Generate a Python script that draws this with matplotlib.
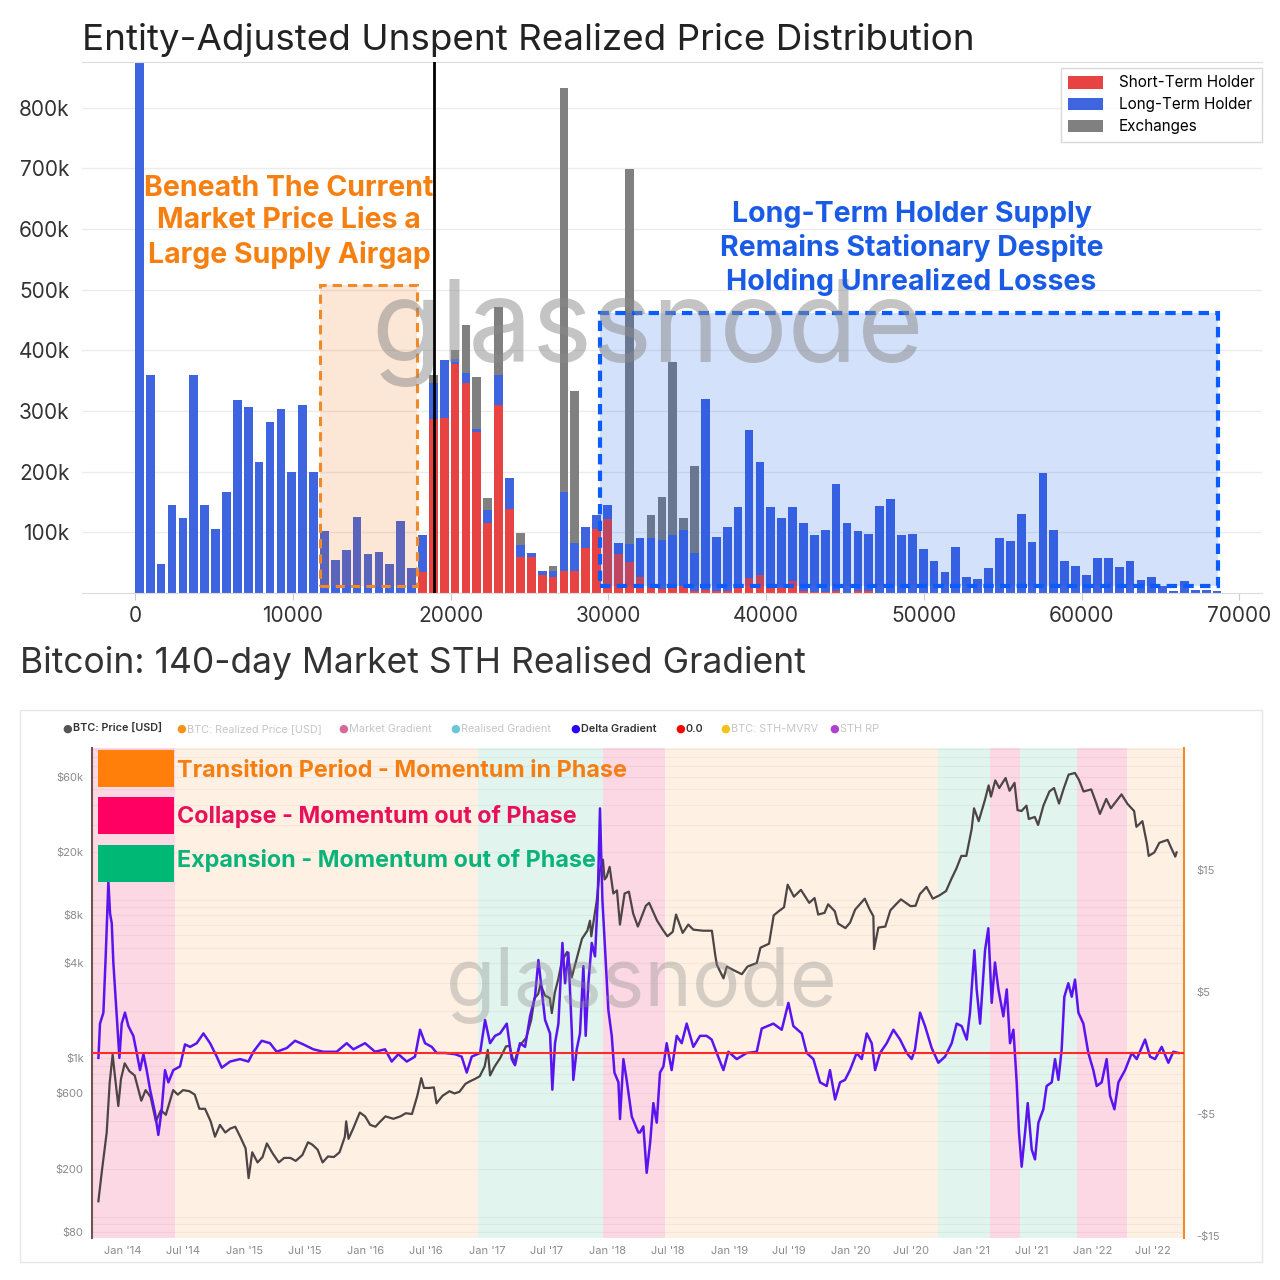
import numpy as np
import pandas as pd
import matplotlib
matplotlib.use("Agg")
import matplotlib.pyplot as plt
from matplotlib.patches import Rectangle
from matplotlib.ticker import LogLocator, NullFormatter

plt.rcParams['font.family'] = ['Inter', 'DejaVu Sans']

# ---------------- top chart data (thousands of BTC per price bin) ----------------
bin_width = 690  # USD per bin
sth_k = [0, 0, 0, 0, 0, 0, 0, 0, 0, 0,
         0, 0, 0, 0, 0, 0, 0, 0, 0, 0,
         0, 0, 0, 0, 0, 0, 34, 286, 288, 377,
         346, 265, 116, 309, 139, 60, 60, 30, 26, 36,
         37, 74, 105, 122, 65, 51, 26, 9, 7, 9,
         12, 4, 5, 4, 3, 10, 24, 29, 9, 9,
         19, 4, 2, 2, 4, 0, 3, 3, 0, 0,
         0, 0, 0, 0, 0, 0, 0, 0, 0, 0,
         0, 0, 0, 0, 0, 0, 0, 0, 0, 0,
         0, 0, 0, 0, 0, 0, 0, 0, 0, 0]
lth_k = [950, 359, 47, 145, 124, 359, 145, 106, 166, 318,
         307, 216, 282, 303, 199, 310, 199, 102, 55, 71,
         126, 65, 68, 47, 119, 41, 62, 60, 96, 9,
         17, 5, 20, 51, 51, 19, 6, 7, 10, 130,
         46, 35, 23, 23, 17, 30, 65, 81, 81, 86,
         91, 62, 314, 88, 106, 132, 245, 187, 133, 114,
         122, 111, 93, 101, 175, 116, 99, 94, 144, 155,
         95, 98, 73, 52, 35, 75, 26, 23, 41, 90,
         85, 130, 84, 197, 104, 53, 44, 30, 57, 57,
         43, 53, 22, 26, 12, 4, 20, 5, 5, 4]
exch_k = [0, 0, 0, 0, 0, 0, 0, 0, 0, 0,
          0, 0, 0, 0, 0, 0, 0, 0, 0, 0,
          0, 0, 0, 0, 0, 0, 0, 13, 0, 15,
          79, 86, 20, 112, 0, 20, 0, 0, 9, 666,
          250, 0, 0, 0, 0, 618, 0, 38, 71, 286,
          21, 143, 0, 0, 0, 0, 0, 0, 0, 0,
          0, 0, 0, 0, 0, 0, 0, 0, 0, 0,
          0, 0, 0, 0, 0, 0, 0, 0, 0, 0,
          0, 0, 0, 0, 0, 0, 0, 0, 0, 0,
          0, 0, 0, 0, 0, 0, 0, 0, 0, 0]
current_price = 18950

# ---------------- bottom chart data ----------------
price_dates = ['2013-10-19', '2013-10-29', '2013-11-06', '2013-11-13', '2013-11-22', '2013-12-01',
               '2013-12-07', '2013-12-18', '2013-12-26', '2014-01-06', '2014-01-20', '2014-02-05',
               '2014-02-25', '2014-03-10', '2014-03-25', '2014-04-10', '2014-04-25', '2014-05-10',
               '2014-06-01', '2014-06-15', '2014-07-01', '2014-07-20', '2014-08-05', '2014-08-19',
               '2014-09-05', '2014-09-22', '2014-10-05', '2014-10-20', '2014-11-05', '2014-11-20',
               '2014-12-05', '2014-12-20', '2015-01-05', '2015-01-14', '2015-01-25', '2015-02-10',
               '2015-02-25', '2015-03-10', '2015-03-28', '2015-04-15', '2015-05-01', '2015-05-20',
               '2015-06-05', '2015-06-25', '2015-07-12', '2015-07-25', '2015-08-10', '2015-08-25',
               '2015-09-10', '2015-09-28', '2015-10-15', '2015-10-31', '2015-11-04', '2015-11-11',
               '2015-11-25', '2015-12-15', '2015-12-31', '2016-01-15', '2016-01-31', '2016-02-15',
               '2016-03-01', '2016-03-25', '2016-04-15', '2016-05-01', '2016-05-20', '2016-06-05',
               '2016-06-17', '2016-06-25', '2016-07-10', '2016-07-25', '2016-08-02', '2016-08-20',
               '2016-09-10', '2016-09-25', '2016-10-10', '2016-10-28', '2016-11-10', '2016-11-25',
               '2016-12-10', '2016-12-25', '2017-01-04', '2017-01-11', '2017-01-25', '2017-02-10',
               '2017-02-28', '2017-03-10', '2017-03-24', '2017-04-10', '2017-04-30', '2017-05-15',
               '2017-05-25', '2017-06-05', '2017-06-12', '2017-06-25', '2017-07-10', '2017-07-16',
               '2017-07-25', '2017-08-05', '2017-08-15', '2017-08-31', '2017-09-14', '2017-09-30',
               '2017-10-15', '2017-10-31', '2017-11-08', '2017-11-12', '2017-11-28', '2017-12-07',
               '2017-12-17', '2017-12-22', '2017-12-28', '2018-01-06', '2018-01-17', '2018-01-28',
               '2018-02-06', '2018-02-20', '2018-03-05', '2018-03-18', '2018-04-01', '2018-04-25',
               '2018-05-05', '2018-05-29', '2018-06-15', '2018-06-29', '2018-07-15', '2018-07-25',
               '2018-08-14', '2018-08-31', '2018-09-15', '2018-10-15', '2018-11-10', '2018-11-20',
               '2018-11-25', '2018-12-15', '2018-12-25', '2019-01-15', '2019-02-08', '2019-02-25',
               '2019-03-25', '2019-04-05', '2019-05-01', '2019-05-15', '2019-05-30', '2019-06-15',
               '2019-06-26', '2019-07-15', '2019-08-05', '2019-08-30', '2019-09-15', '2019-09-26',
               '2019-10-15', '2019-10-26', '2019-11-15', '2019-11-25', '2019-12-17', '2019-12-31',
               '2020-01-15', '2020-02-13', '2020-02-28', '2020-03-10', '2020-03-12', '2020-03-25',
               '2020-04-15', '2020-04-30', '2020-05-15', '2020-06-01', '2020-06-30', '2020-07-15',
               '2020-07-28', '2020-08-17', '2020-09-05', '2020-09-25', '2020-10-15', '2020-10-31',
               '2020-11-15', '2020-11-30', '2020-12-15', '2020-12-31', '2021-01-08', '2021-01-22',
               '2021-02-10', '2021-02-21', '2021-02-28', '2021-03-13', '2021-03-25', '2021-04-13',
               '2021-04-25', '2021-05-10', '2021-05-19', '2021-05-31', '2021-06-15', '2021-06-22',
               '2021-07-10', '2021-07-20', '2021-08-05', '2021-08-23', '2021-09-06', '2021-09-21',
               '2021-10-05', '2021-10-20', '2021-11-08', '2021-11-20', '2021-12-04', '2021-12-27',
               '2022-01-10', '2022-01-22', '2022-02-10', '2022-02-24', '2022-03-28', '2022-04-15',
               '2022-05-05', '2022-05-12', '2022-05-30', '2022-06-13', '2022-06-18', '2022-07-05',
               '2022-07-20', '2022-08-14', '2022-08-25', '2022-09-06', '2022-09-10']
price_usd = [125, 190, 260, 340, 700, 1060,
             800, 500, 740, 930, 830, 780,
             540, 630, 570, 400, 470, 440,
             630, 590, 630, 620, 590, 480,
             480, 400, 320, 380, 340, 360,
             370, 320, 270, 175, 255, 220,
             238, 290, 250, 220, 235, 235,
             225, 245, 295, 285, 265, 220,
             240, 238, 255, 320, 400, 310,
             360, 455, 430, 380, 370, 400,
             430, 415, 430, 450, 445, 580,
             750, 650, 650, 655, 520, 580,
             620, 600, 615, 690, 715, 740,
             770, 890, 1130, 780, 890, 1000,
             1190, 1200, 930, 1200, 1350, 1750,
             2400, 2550, 2950, 2500, 2400, 1930,
             2600, 3200, 4100, 4700, 3250, 4350,
             5700, 6400, 7400, 5900, 9800, 15000,
             18000, 13500, 14000, 16200, 11000, 11500,
             7000, 11000, 11300, 8200, 6800, 9200,
             9600, 7400, 6500, 5900, 6300, 8100,
             6200, 7000, 6500, 6400, 6400, 4500,
             3900, 3200, 3800, 3600, 3400, 3800,
             4000, 5000, 5300, 8000, 8500, 9000,
             12500, 10500, 11600, 9600, 10300, 8100,
             8300, 9400, 8500, 7100, 6650, 7200,
             8700, 10200, 8700, 7900, 4900, 6700,
             6800, 8600, 9300, 10100, 9150, 9200,
             10900, 12100, 10200, 10700, 11400, 13600,
             15800, 19000, 19000, 28000, 38000, 31500,
             43000, 53000, 45000, 57000, 51000, 59000,
             49000, 55000, 37000, 36500, 39500, 32500,
             33500, 29800, 39500, 48500, 51000, 40700,
             50500, 62000, 63500, 57500, 48500, 50000,
             41500, 35000, 43500, 38000, 46500, 40500,
             36500, 29000, 31500, 22500, 19000, 20000,
             23000, 24000, 21300, 18800, 20000]

dg_year = [2013.797, 2013.810, 2013.838, 2013.857, 2013.879, 2013.893, 2013.907, 2013.920,
           2013.934, 2013.948, 2013.970, 2013.989, 2014.016, 2014.044, 2014.085, 2014.113,
           2014.140, 2014.168, 2014.195, 2014.223, 2014.264, 2014.291, 2014.319, 2014.346,
           2014.374, 2014.415, 2014.470, 2014.511, 2014.553, 2014.608, 2014.663, 2014.718,
           2014.773, 2014.814, 2014.883, 2014.965, 2015.034, 2015.075, 2015.144, 2015.212,
           2015.267, 2015.350, 2015.419, 2015.487, 2015.570, 2015.652, 2015.762, 2015.845,
           2015.900, 2015.996, 2016.079, 2016.161, 2016.216, 2016.271, 2016.340, 2016.408,
           2016.450, 2016.491, 2016.546, 2016.587, 2016.656, 2016.738, 2016.793, 2016.835,
           2016.876, 2016.945, 2016.986, 2017.027, 2017.068, 2017.110, 2017.165, 2017.206,
           2017.233, 2017.274, 2017.316, 2017.357, 2017.398, 2017.426, 2017.453, 2017.481,
           2017.522, 2017.541, 2017.563, 2017.591, 2017.624, 2017.646, 2017.673, 2017.701,
           2017.714, 2017.742, 2017.769, 2017.797, 2017.816, 2017.838, 2017.866, 2017.893,
           2017.915, 2017.934, 2017.954, 2017.976, 2018.003, 2018.031, 2018.053, 2018.086,
           2018.099, 2018.127, 2018.154, 2018.196, 2018.250, 2018.264, 2018.292, 2018.319,
           2018.347, 2018.374, 2018.402, 2018.429, 2018.457, 2018.484, 2018.525, 2018.567,
           2018.608, 2018.649, 2018.704, 2018.759, 2018.814, 2018.855, 2018.897, 2018.952,
           2018.993, 2019.062, 2019.144, 2019.227, 2019.268, 2019.364, 2019.433, 2019.488,
           2019.529, 2019.598, 2019.639, 2019.694, 2019.749, 2019.804, 2019.831, 2019.873,
           2019.914, 2019.955, 2019.996, 2020.051, 2020.093, 2020.134, 2020.175, 2020.203,
           2020.244, 2020.299, 2020.354, 2020.409, 2020.464, 2020.505, 2020.532, 2020.574,
           2020.615, 2020.670, 2020.725, 2020.780, 2020.835, 2020.876, 2020.917, 2020.959,
           2020.986, 2021.022, 2021.041, 2021.069, 2021.110, 2021.137, 2021.165, 2021.192,
           2021.220, 2021.261, 2021.289, 2021.316, 2021.344, 2021.371, 2021.390, 2021.412,
           2021.440, 2021.462, 2021.495, 2021.522, 2021.550, 2021.591, 2021.618, 2021.660,
           2021.687, 2021.715, 2021.742, 2021.764, 2021.797, 2021.825, 2021.852, 2021.880,
           2021.921, 2021.962, 2022.003, 2022.031, 2022.072, 2022.113, 2022.141, 2022.177,
           2022.210, 2022.265, 2022.320, 2022.361, 2022.430, 2022.471, 2022.512, 2022.567,
           2022.622, 2022.663, 2022.704]
dg_value = [-0.4, 2.4, 3.3, 7.9, 14.0, 11.4, 10.6, 7.4,
            5.2, 3.0, -0.4, 2.4, 3.3, 2.2, 1.4, 0.0,
            -1.4, -0.1, -1.4, -3.0, -4.9, -6.7, -4.6, -1.4,
            -2.4, -1.4, -1.1, 0.7, 0.5, 0.8, 1.6, 0.8,
            -0.3, -1.2, -0.7, -0.5, -0.7, 0.1, 1.0, 0.8,
            0.1, 0.4, 1.0, 0.7, 0.3, 0.1, 0.1, 0.8,
            0.3, 0.8, 0.1, 0.3, -0.7, -0.1, -0.7, -0.3,
            1.9, 0.8, 0.5, 0.0, 0.0, -0.1, -0.3, -1.6,
            -0.3, 0.0, 2.7, 0.8, 1.4, 1.6, 2.4, -0.5,
            -1.0, 0.8, 0.5, 3.0, 4.6, 7.6, 5.2, 2.7,
            1.6, -3.0, 0.8, 2.4, 9.0, 5.7, 8.2, 1.9,
            -2.2, 0.3, 1.6, 7.1, 1.4, 5.7, 9.0, 7.9,
            12.5, 20.0, 12.5, 8.4, 3.5, 1.4, -1.6, -2.4,
            -5.4, -0.5, -2.2, -5.2, -6.5, -6.5, -6.0, -9.8,
            -7.4, -4.1, -5.7, -1.6, -1.1, 0.8, -1.4, 1.4,
            0.8, 2.4, 0.5, 1.4, 1.4, 1.1, 0.0, -1.4,
            0.1, -0.5, 0.0, 0.1, 2.0, 2.4, 1.9, 4.1,
            2.2, 1.6, 0.0, -0.5, -2.4, -2.7, -1.4, -3.8,
            -2.4, -2.2, -1.4, 0.0, -0.5, 1.6, 0.8, -1.4,
            0.0, 0.8, 1.9, 1.1, 0.0, -0.5, 0.3, 3.3,
            2.2, 0.4, -0.8, -0.3, 0.8, 2.4, 2.2, 1.1,
            3.3, 8.4, 5.2, 2.4, 8.4, 10.2, 4.1, 7.4,
            5.2, 3.0, 5.2, 0.8, 1.9, -2.4, -6.5, -9.3,
            -6.5, -4.1, -7.9, -8.7, -5.7, -4.6, -2.7, -2.4,
            -0.5, -2.2, 0.3, 4.6, 5.7, 4.6, 6.0, 3.3,
            2.4, 0.0, -1.4, -2.7, -2.4, -0.5, -3.5, -4.6,
            -2.4, -1.4, 0.0, -0.5, 1.1, -0.3, -0.5, 0.5,
            -0.8, 0.1, 0.0]

band_start = [2013.744, 2014.429, 2016.928, 2017.959, 2018.470, 2020.722, 2021.151, 2021.399, 2021.869, 2022.281]
band_end = [2014.429, 2016.928, 2017.959, 2018.470, 2020.722, 2021.151, 2021.399, 2021.869, 2022.281, 2022.751]
band_kind = ['collapse', 'transition', 'expansion', 'collapse', 'transition',
             'expansion', 'collapse', 'expansion', 'collapse', 'transition']

tick_dates = ['2014-01-01', '2014-07-01', '2015-01-01', '2015-07-01', '2016-01-01', '2016-07-01',
              '2017-01-01', '2017-07-01', '2018-01-01', '2018-07-01', '2019-01-01', '2019-07-01',
              '2020-01-01', '2020-07-01', '2021-01-01', '2021-07-01', '2022-01-01', '2022-07-01']
tick_labels = ["Jan '14", "Jul '14", "Jan '15", "Jul '15", "Jan '16", "Jul '16",
               "Jan '17", "Jul '17", "Jan '18", "Jul '18", "Jan '19", "Jul '19",
               "Jan '20", "Jul '20", "Jan '21", "Jul '21", "Jan '22", "Jul '22"]
price_ticks = [80, 200, 600, 1000, 4000, 8000, 20000, 60000]
price_tick_labels = ['$80', '$200', '$600', '$1k', '$4k', '$8k', '$20k', '$60k']
grad_ticks = [-15, -5, 5, 15]
grad_tick_labels = ['-$15', '-$5', '$5', '$15']


def to_year(dates):
    d = pd.to_datetime(dates)
    return np.asarray(d.year + (d.dayofyear - 1) / 365.25)


W = H = 1280.0


def fx(px):
    return px / W


def fy(py):
    return 1 - py / H


fig = plt.figure(figsize=(12.8, 12.8), dpi=100)

# ============================================
# top: realized price distribution
# ============================================
ax1 = fig.add_axes([fx(82), fy(593), (1262 - 82) / W, (593 - 62) / H])
left = np.arange(len(lth_k)) * bin_width
sth = np.array(sth_k) * 1000
lth = np.array(lth_k) * 1000
exch = np.array(exch_k) * 1000
bw = bin_width * 0.8

ax1.bar(left, sth, width=bw, align='edge', color='#e84343', zorder=2, label='Short-Term Holder')
ax1.bar(left, lth, width=bw, align='edge', bottom=sth, color='#3f64e0', zorder=2, label='Long-Term Holder')
ax1.bar(left, exch, width=bw, align='edge', bottom=sth + lth, color='#808080', zorder=2, label='Exchanges')

ax1.set_xlim(-3360, 71430)
ax1.set_ylim(0, 875000)
ax1.set_yticks(range(100000, 800001, 100000))
ax1.set_yticklabels([f"{v // 1000}k" for v in range(100000, 800001, 100000)])
ax1.set_xticks(range(0, 70001, 10000))
ax1.set_xticklabels([str(v) for v in range(0, 70001, 10000)])
ax1.yaxis.grid(True, color='#ececec', lw=1)
ax1.set_axisbelow(True)
for s in ['left', 'right']:
    ax1.spines[s].set_visible(False)
for s in ['top', 'bottom']:
    ax1.spines[s].set_color('#dcdcdc')
ax1.tick_params(axis='y', length=0, labelsize=15, labelcolor='#333333', pad=9)
ax1.tick_params(axis='x', length=5, color='#cccccc', labelsize=15, labelcolor='#333333', pad=4)

# shaded boxes (tint drawn over the bars)
ax1.add_patch(Rectangle((11720, 11000), 6150, 496000, facecolor='#f06500', alpha=0.16, lw=0, zorder=3))
ax1.add_patch(Rectangle((11720, 11000), 6150, 496000, fill=False, edgecolor='#f0892a',
                        lw=2.2, ls=(0, (3, 2)), zorder=4))
ax1.add_patch(Rectangle((29470, 11000), 39160, 451000, facecolor='#004fe7', alpha=0.17, lw=0, zorder=3))
ax1.add_patch(Rectangle((29470, 11000), 39160, 451000, fill=False, edgecolor='#0a5cff',
                        lw=3, ls=(0, (2.5, 1.5)), zorder=4))
ax1.axvline(current_price, color='black', lw=2, zorder=4)

ax1.text(32500, 428000, 'glassnode', fontsize=82, color='#8a8a8a', alpha=0.5,
         ha='center', va='center', zorder=5)
ax1.text(9755, 612000, 'Beneath The Current\nMarket Price Lies a\nLarge Supply Airgap',
         fontsize=20.5, fontweight='bold', color='#f57f10', ha='center', va='center',
         linespacing=1.28, zorder=6)
ax1.text(49220, 568000, 'Long-Term Holder Supply\nRemains Stationary Despite\nHolding Unrealized Losses',
         fontsize=20.5, fontweight='bold', color='#1a5be6', ha='center', va='center',
         linespacing=1.28, zorder=6)

leg = ax1.legend(loc='upper right', bbox_to_anchor=(1.0, 0.989), borderaxespad=0, fontsize=11,
                 frameon=True, fancybox=False, edgecolor='#d0d0d0', handlelength=2.3,
                 handleheight=0.9, borderpad=0.5, labelspacing=0.45, handletextpad=1.0)
leg.get_frame().set_linewidth(1)

fig.text(fx(82), fy(40), 'Entity-Adjusted Unspent Realized Price Distribution',
         fontsize=26.5, color='#222222', va='center', ha='left')

# ============================================
# bottom: STH realised gradient
# ============================================
fig.add_artist(Rectangle((fx(20), fy(1262)), (1262 - 20) / W, (1262 - 710) / H,
                         transform=fig.transFigure, fill=False, edgecolor='#e6e6e6', lw=1))
fig.text(fx(20), fy(663), 'Bitcoin: 140-day Market STH Realised Gradient',
         fontsize=25.5, color='#333333', va='center', ha='left')

legend_items = [('BTC: Price [USD]', '#555555', True, 67),
                ('BTC: Realized Price [USD]', '#f7931a', False, 181),
                ('Market Gradient', '#d9679b', False, 343),
                ('Realised Gradient', '#6cc5d9', False, 455),
                ('Delta Gradient', '#2a00ff', True, 575),
                ('0.0', '#ff0000', True, 680),
                ('BTC: STH-MVRV', '#f2c21b', False, 725),
                ('STH RP', '#b040d0', False, 834)]
for label, col, active, xpx in legend_items:
    fig.text(fx(xpx), fy(729), '\u25cf', fontsize=8, color=col, ha='center', va='center',
             family='DejaVu Sans')
    fig.text(fx(xpx + 6), fy(729), label, fontsize=7.8, ha='left', va='center',
             color='#333333' if active else '#c6c6c6',
             fontweight='semibold' if active else 'normal')

ax2 = fig.add_axes([fx(92), fy(1238), (1184 - 92) / W, (1238 - 748) / H])
band_colors = {'collapse': '#fcd8e5', 'transition': '#fef1e4', 'expansion': '#e1f5ee'}
for s, e, k in zip(band_start, band_end, band_kind):
    ax2.axvspan(s, e, color=band_colors[k], lw=0, zorder=0)

ax2.set_yscale('log')
ax2.set_xlim(2013.744, 2022.751)
ax2.set_ylim(73.3, 91300)
ax2.set_yticks(price_ticks)
ax2.set_yticklabels(price_tick_labels)
ax2.yaxis.set_minor_locator(LogLocator(base=10, subs=np.arange(1, 10)))
ax2.yaxis.set_minor_formatter(NullFormatter())
ax2.grid(which='both', axis='y', color='#000000', alpha=0.045, lw=0.8)
ax2.set_xticks(to_year(tick_dates))
ax2.set_xticklabels(tick_labels)
ax2.tick_params(axis='both', which='both', length=0)
ax2.tick_params(axis='y', labelsize=8, labelcolor='#8a8a8a', pad=6)
ax2.tick_params(axis='x', labelsize=8, labelcolor='#8a8a8a', pad=6)
for s in ['top', 'right', 'bottom']:
    ax2.spines[s].set_visible(False)
ax2.spines['left'].set_color('#6b5555')
ax2.spines['left'].set_linewidth(1.5)

ax2.plot(to_year(price_dates), price_usd, color='#4d4545', lw=1.6, zorder=3)

ax2r = ax2.twinx()
ax2r.set_ylim(-15.13, 24.94)
ax2r.set_yticks(grad_ticks)
ax2r.set_yticklabels(grad_tick_labels)
ax2r.tick_params(axis='y', length=0, labelsize=8, labelcolor='#8a8a8a', pad=9)
for s in ['top', 'left', 'bottom']:
    ax2r.spines[s].set_visible(False)
ax2r.spines['right'].set_color('#f08a2a')
ax2r.spines['right'].set_linewidth(1.5)

ax2r.plot(dg_year, dg_value, color='#5a14f0', lw=1.8, zorder=3)
ax2r.axhline(0, color='#ff2a2a', lw=1.5, zorder=4)

ax2r.text(0.503, 0.516, 'glassnode', transform=ax2r.transAxes, fontsize=58, color='#8a8a8a',
          alpha=0.35, ha='center', va='center', zorder=5)

phase_labels = ['Transition Period - Momentum in Phase',
                'Collapse - Momentum out of Phase',
                'Expansion - Momentum out of Phase']
phase_box_colors = ['#ff7f0a', '#ff0062', '#00b875']
phase_text_colors = ['#f57e12', '#e8105a', '#0ab37a']
box_tops = [750, 797, 845]
text_centers = [771, 816, 860]
for lab, bc, tc, top, tcy in zip(phase_labels, phase_box_colors, phase_text_colors, box_tops, text_centers):
    y0 = (1238 - (top + 37)) / 490.0
    ax2r.add_patch(Rectangle(((98 - 92) / 1092.0, y0), 76 / 1092.0, 37 / 490.0,
                             transform=ax2r.transAxes, facecolor=bc, lw=0, zorder=6))
    ax2r.text((177 - 92) / 1092.0, (1238 - tcy) / 490.0, lab, transform=ax2r.transAxes,
              fontsize=16.8, fontweight='bold', color=tc, ha='left', va='center', zorder=6)

fig.savefig('out.png', dpi=100)
